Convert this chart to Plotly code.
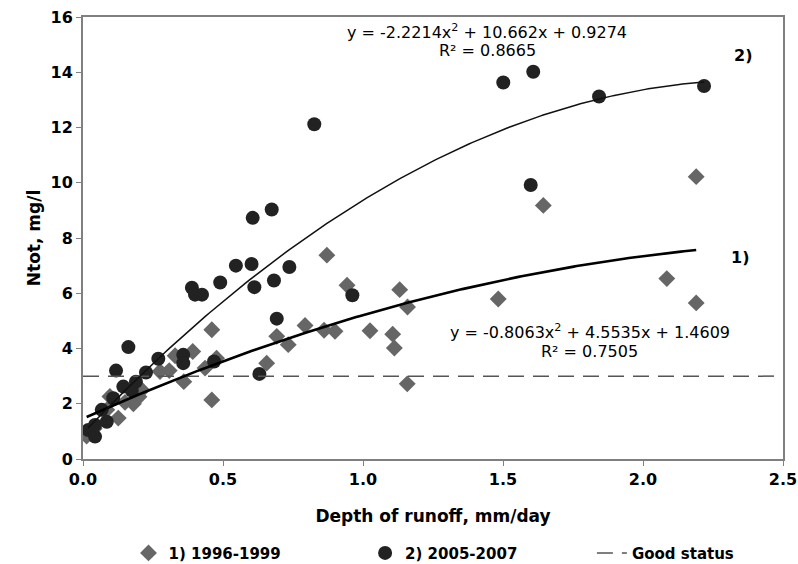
import numpy as np
import plotly.graph_objects as go

# Series 1) 1996-1999 (diamonds)
d_x = [0.013, 0.04, 0.085, 0.096, 0.126, 0.15, 0.18, 0.20, 0.21, 0.275, 0.308, 0.329, 0.36,
       0.392, 0.436, 0.46, 0.46, 0.477, 0.656, 0.692, 0.733, 0.793, 0.861, 0.871, 0.900,
       0.943, 1.025, 1.106, 1.112, 1.131, 1.158, 1.159, 1.483, 1.644, 2.085, 2.19, 2.19]
d_y = [0.83, 1.10, 1.78, 2.26, 1.48, 2.05, 2.00, 2.25, 2.50, 3.17, 3.20, 3.74, 2.80,
       3.89, 3.29, 4.68, 2.14, 3.65, 3.47, 4.44, 4.14, 4.83, 4.66, 7.38, 4.62,
       6.29, 4.64, 4.52, 4.02, 6.13, 2.72, 5.50, 5.79, 9.18, 6.53, 10.22, 5.65]

# Series 2) 2005-2007 (circles)
c_x = [0.019, 0.043, 0.043, 0.067, 0.085, 0.108, 0.118, 0.144, 0.162, 0.174, 0.189, 0.225,
       0.269, 0.358, 0.358, 0.389, 0.400, 0.425, 0.468, 0.490, 0.546, 0.602, 0.606, 0.612,
       0.630, 0.674, 0.682, 0.692, 0.737, 0.826, 0.962, 1.501, 1.599, 1.608, 1.843, 2.218]
c_y = [1.05, 0.81, 1.23, 1.78, 1.35, 2.20, 3.20, 2.62, 4.05, 2.48, 2.80, 3.13,
       3.63, 3.77, 3.47, 6.20, 5.95, 5.95, 3.53, 6.39, 7.00, 7.06, 8.73, 6.22,
       3.08, 9.03, 6.46, 5.08, 6.95, 12.12, 5.93, 13.63, 9.92, 14.02, 13.12, 13.50]

# Trendline coefficients (a, b, c) for y = a x^2 + b x + c
coef1 = (-0.8063, 4.5535, 1.4609)
coef2 = (-2.2214, 10.662, 0.9274)
good_status = 3.0

x_ticks = [0.0, 0.5, 1.0, 1.5, 2.0, 2.5]
y_ticks = [0, 2, 4, 6, 8, 10, 12, 14, 16]

FONT = "DejaVu Sans, Liberation Sans, Arial, sans-serif"

def poly(coef, xs):
    a, b, c = coef
    xs = np.asarray(xs)
    return a * xs**2 + b * xs + c

t1 = np.linspace(min(d_x), max(d_x), 200)
t2 = np.linspace(min(c_x), max(c_x), 200)

fig = go.Figure()
fig.add_trace(go.Scatter(x=d_x, y=d_y, mode="markers", name="1) 1996-1999", legend="legend",
                         marker=dict(symbol="diamond", size=13, color="#666666",
                                     line=dict(width=0))))
fig.add_trace(go.Scatter(x=c_x, y=c_y, mode="markers", name="2) 2005-2007", legend="legend2",
                         marker=dict(symbol="circle", size=14, color="#222222",
                                     line=dict(width=0))))
fig.add_trace(go.Scatter(x=[0, 2.5], y=[good_status, good_status], mode="lines",
                         name="Good status", legend="legend3",
                         line=dict(color="#555555", width=1.5, dash="16px,9px")))
fig.add_trace(go.Scatter(x=t1, y=poly(coef1, t1), mode="lines", showlegend=False,
                         line=dict(color="#000000", width=2.6)))
fig.add_trace(go.Scatter(x=t2, y=poly(coef2, t2), mode="lines", showlegend=False,
                         line=dict(color="#111111", width=1.5)))

ann_font = dict(family=FONT, size=16, color="#000000")
bold_font = dict(family=FONT, size=16, color="#000000", weight="bold")
annotations = [
    dict(x=1.443, y=15.46, text="y = -2.2214x<sup>2</sup> + 10.662x + 0.9274", showarrow=False,
         font=ann_font, xanchor="center", yanchor="middle"),
    dict(x=1.443, y=14.77, text="R² = 0.8665", showarrow=False,
         font=ann_font, xanchor="center", yanchor="middle"),
    dict(x=2.357, y=14.59, text="2)", showarrow=False, font=bold_font),
    dict(x=2.346, y=7.29, text="1)", showarrow=False, font=bold_font),
    dict(x=1.81, y=4.61, text="y = -0.8063x<sup>2</sup> + 4.5535x + 1.4609", showarrow=False,
         font=ann_font, xanchor="center", yanchor="middle"),
    dict(x=1.81, y=3.88, text="R² = 0.7505", showarrow=False,
         font=ann_font, xanchor="center", yanchor="middle"),
]

leg_font = dict(family=FONT, size=15, weight="bold", color="#000000")
def leg(xpos):
    return dict(orientation="h", x=xpos, xanchor="left", y=-0.213, yanchor="middle",
                font=leg_font, bgcolor="rgba(0,0,0,0)", borderwidth=0)

fig.update_layout(
    width=798, height=564,
    margin=dict(l=83, r=15, t=17, b=105, autoexpand=False),
    paper_bgcolor="white", plot_bgcolor="white",
    font=dict(family=FONT, color="#000000"),
    annotations=annotations,
    showlegend=True,
    legend=leg(0.065),
    legend2=leg(0.403),
    legend3=leg(0.727),
    xaxis=dict(range=[0, 2.5], tickvals=x_ticks, ticktext=[f"{v:.1f}" for v in x_ticks],
               automargin=False,
               showgrid=False, zeroline=False, showline=True, linecolor="#808080",
               linewidth=2, mirror=True, ticks="outside", ticklen=5, tickcolor="#808080",
               tickfont=dict(family=FONT, size=16, weight="bold"),
               title=dict(text="Depth of runoff, mm/day",
                          font=dict(family=FONT, size=17, weight="bold"), standoff=22)),
    yaxis=dict(range=[0, 16], tickvals=y_ticks, showgrid=False, zeroline=False,
               automargin=False,
               showline=True, linecolor="#808080", linewidth=2, mirror=True,
               ticks="outside", ticklen=5, tickcolor="#808080",
               tickfont=dict(family=FONT, size=16, weight="bold"),
               title=dict(text="Ntot, mg/l", font=dict(family=FONT, size=17, weight="bold"),
                          standoff=6)),
)

fig.write_html("out.html", config={"displayModeBar": False},
               post_script="document.body.style.margin='0';document.body.style.padding='0';")
